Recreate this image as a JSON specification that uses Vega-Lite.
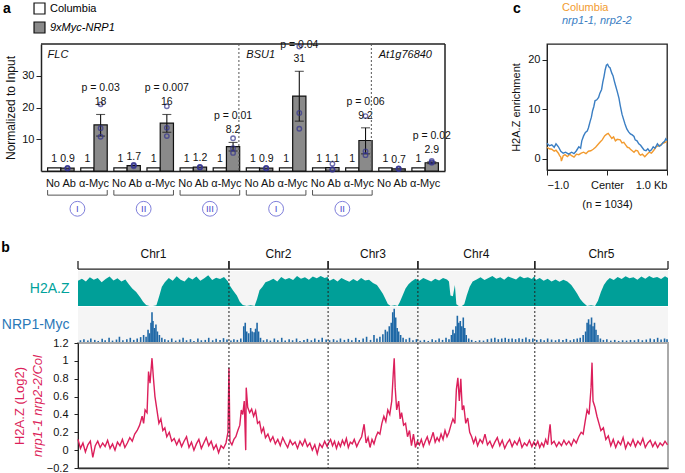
{
"$schema": "https://vega.github.io/schema/vega-lite/v6.json",
"background": "white",
"padding": {"left": 1, "top": 1, "right": 2, "bottom": 0},
"config": {
 "font": "Liberation Sans",
 "view": {"stroke": null},
 "axis": {"grid": false, "labelColor": "#111", "titleColor": "#111", "tickColor": "#222", "domainColor": "#222", "labelFontSize": 11, "titleFontSize": 12, "titleFontWeight": "normal"},
 "title": {"fontSize": 14, "fontWeight": "bold", "anchor": "start", "frame": "bounds", "color": "#000"}
},
"datasets": {
 "bars": [
  {"grp": "01 No Ab", "line": "Columbia", "value": 1, "label": "1"},
  {"grp": "01 No Ab", "line": "9xMyc-NRP1", "value": 0.9, "label": "0.9"},
  {"grp": "02 α-Myc", "line": "Columbia", "value": 1, "label": "1"},
  {"grp": "02 α-Myc", "line": "9xMyc-NRP1", "value": 14.5, "label": "18", "lo": 11, "hi": 17.8, "p": "p = 0.03"},
  {"grp": "03 No Ab", "line": "Columbia", "value": 1, "label": "1"},
  {"grp": "03 No Ab", "line": "9xMyc-NRP1", "value": 1.7, "label": "1.7"},
  {"grp": "04 α-Myc", "line": "Columbia", "value": 1, "label": "1"},
  {"grp": "04 α-Myc", "line": "9xMyc-NRP1", "value": 15.1, "label": "16", "lo": 12.2, "hi": 17.8, "p": "p = 0.007"},
  {"grp": "05 No Ab", "line": "Columbia", "value": 1, "label": "1"},
  {"grp": "05 No Ab", "line": "9xMyc-NRP1", "value": 1.2, "label": "1.2"},
  {"grp": "06 α-Myc", "line": "Columbia", "value": 1, "label": "1"},
  {"grp": "06 α-Myc", "line": "9xMyc-NRP1", "value": 7.7, "label": "8.2", "lo": 6.3, "hi": 9.0, "p": "p = 0.01"},
  {"grp": "07 No Ab", "line": "Columbia", "value": 1, "label": "1"},
  {"grp": "07 No Ab", "line": "9xMyc-NRP1", "value": 0.9, "label": "0.9"},
  {"grp": "08 α-Myc", "line": "Columbia", "value": 1, "label": "1"},
  {"grp": "08 α-Myc", "line": "9xMyc-NRP1", "value": 23.6, "label": "31", "lo": 15.7, "hi": 31.4, "p": "p = 0.04"},
  {"grp": "09 No Ab", "line": "Columbia", "value": 1, "label": "1"},
  {"grp": "09 No Ab", "line": "9xMyc-NRP1", "value": 1.1, "label": "1.1"},
  {"grp": "10 α-Myc", "line": "Columbia", "value": 1, "label": "1"},
  {"grp": "10 α-Myc", "line": "9xMyc-NRP1", "value": 9.6, "label": "9.2", "lo": 5.4, "hi": 13.6, "p": "p = 0.06"},
  {"grp": "11 No Ab", "line": "Columbia", "value": 1, "label": "1"},
  {"grp": "11 No Ab", "line": "9xMyc-NRP1", "value": 0.7, "label": "0.7"},
  {"grp": "12 α-Myc", "line": "Columbia", "value": 1, "label": "1"},
  {"grp": "12 α-Myc", "line": "9xMyc-NRP1", "value": 2.6, "label": "2.9", "lo": 2.3, "hi": 2.9, "p": "p = 0.02"}
 ],
 "reps": [
  {"grp": "01 No Ab", "line": "9xMyc-NRP1", "rep": 0.8}, {"grp": "01 No Ab", "line": "9xMyc-NRP1", "rep": 1.0}, {"grp": "01 No Ab", "line": "9xMyc-NRP1", "rep": 0.9},
  {"grp": "02 α-Myc", "line": "9xMyc-NRP1", "rep": 21}, {"grp": "02 α-Myc", "line": "9xMyc-NRP1", "rep": 13.5}, {"grp": "02 α-Myc", "line": "9xMyc-NRP1", "rep": 10.8},
  {"grp": "03 No Ab", "line": "9xMyc-NRP1", "rep": 1.5}, {"grp": "03 No Ab", "line": "9xMyc-NRP1", "rep": 1.8}, {"grp": "03 No Ab", "line": "9xMyc-NRP1", "rep": 1.9},
  {"grp": "04 α-Myc", "line": "9xMyc-NRP1", "rep": 20.4}, {"grp": "04 α-Myc", "line": "9xMyc-NRP1", "rep": 13.6}, {"grp": "04 α-Myc", "line": "9xMyc-NRP1", "rep": 11},
  {"grp": "05 No Ab", "line": "9xMyc-NRP1", "rep": 1.1}, {"grp": "05 No Ab", "line": "9xMyc-NRP1", "rep": 1.3}, {"grp": "05 No Ab", "line": "9xMyc-NRP1", "rep": 1.2},
  {"grp": "06 α-Myc", "line": "9xMyc-NRP1", "rep": 10.3}, {"grp": "06 α-Myc", "line": "9xMyc-NRP1", "rep": 7.2}, {"grp": "06 α-Myc", "line": "9xMyc-NRP1", "rep": 5.7},
  {"grp": "07 No Ab", "line": "9xMyc-NRP1", "rep": 0.8}, {"grp": "07 No Ab", "line": "9xMyc-NRP1", "rep": 1.0}, {"grp": "07 No Ab", "line": "9xMyc-NRP1", "rep": 0.9},
  {"grp": "08 α-Myc", "line": "9xMyc-NRP1", "rep": 39.2}, {"grp": "08 α-Myc", "line": "9xMyc-NRP1", "rep": 18.3}, {"grp": "08 α-Myc", "line": "9xMyc-NRP1", "rep": 13.3},
  {"grp": "09 No Ab", "line": "9xMyc-NRP1", "rep": 2.3}, {"grp": "09 No Ab", "line": "9xMyc-NRP1", "rep": 0.6}, {"grp": "09 No Ab", "line": "9xMyc-NRP1", "rep": 0.4},
  {"grp": "10 α-Myc", "line": "9xMyc-NRP1", "rep": 17.3}, {"grp": "10 α-Myc", "line": "9xMyc-NRP1", "rep": 6.2}, {"grp": "10 α-Myc", "line": "9xMyc-NRP1", "rep": 5.0},
  {"grp": "11 No Ab", "line": "9xMyc-NRP1", "rep": 0.6}, {"grp": "11 No Ab", "line": "9xMyc-NRP1", "rep": 0.8}, {"grp": "11 No Ab", "line": "9xMyc-NRP1", "rep": 0.7},
  {"grp": "12 α-Myc", "line": "9xMyc-NRP1", "rep": 3.2}, {"grp": "12 α-Myc", "line": "9xMyc-NRP1", "rep": 2.8}, {"grp": "12 α-Myc", "line": "9xMyc-NRP1", "rep": 2.6}
 ],
 "genes": [{"grp": "01 No Ab", "gene": "FLC"}, {"grp": "07 No Ab", "gene": "BSU1"}, {"grp": "11 No Ab", "gene": "At1g76840"}],
 "seps": [{"grp": "07 No Ab"}, {"grp": "11 No Ab"}],
 "frame": [{"first": "01 No Ab", "last": "12 α-Myc"}],
 "braces": [
  {"left": "01 No Ab", "right": "02 α-Myc", "region": "I"},
  {"left": "03 No Ab", "right": "04 α-Myc", "region": "II"},
  {"left": "05 No Ab", "right": "06 α-Myc", "region": "III"},
  {"left": "07 No Ab", "right": "08 α-Myc", "region": "I"},
  {"left": "09 No Ab", "right": "10 α-Myc", "region": "II"}
 ],
 "profile": [
  {"geno": "Columbia", "pos": -1.0, "v": 2.3}, {"geno": "Columbia", "pos": -0.96, "v": 2.0}, {"geno": "Columbia", "pos": -0.92, "v": 1.9}, {"geno": "Columbia", "pos": -0.88, "v": 1.5}, {"geno": "Columbia", "pos": -0.85, "v": 1.7}, {"geno": "Columbia", "pos": -0.81, "v": 1.1}, {"geno": "Columbia", "pos": -0.79, "v": 0.6}, {"geno": "Columbia", "pos": -0.77, "v": 0.3}, {"geno": "Columbia", "pos": -0.76, "v": -0.5}, {"geno": "Columbia", "pos": -0.73, "v": 0.6}, {"geno": "Columbia", "pos": -0.70, "v": 0.8}, {"geno": "Columbia", "pos": -0.66, "v": 0.4}, {"geno": "Columbia", "pos": -0.62, "v": 0.9}, {"geno": "Columbia", "pos": -0.59, "v": 0.6}, {"geno": "Columbia", "pos": -0.55, "v": 0.3}, {"geno": "Columbia", "pos": -0.51, "v": 0.9}, {"geno": "Columbia", "pos": -0.47, "v": 0.8}, {"geno": "Columbia", "pos": -0.43, "v": 1.1}, {"geno": "Columbia", "pos": -0.39, "v": 1.3}, {"geno": "Columbia", "pos": -0.35, "v": 1.0}, {"geno": "Columbia", "pos": -0.31, "v": 1.5}, {"geno": "Columbia", "pos": -0.27, "v": 1.6}, {"geno": "Columbia", "pos": -0.23, "v": 1.9}, {"geno": "Columbia", "pos": -0.19, "v": 2.3}, {"geno": "Columbia", "pos": -0.14, "v": 3.0}, {"geno": "Columbia", "pos": -0.11, "v": 3.4}, {"geno": "Columbia", "pos": -0.08, "v": 3.8}, {"geno": "Columbia", "pos": -0.04, "v": 4.6}, {"geno": "Columbia", "pos": -0.01, "v": 4.9}, {"geno": "Columbia", "pos": 0.02, "v": 5.1}, {"geno": "Columbia", "pos": 0.05, "v": 4.6}, {"geno": "Columbia", "pos": 0.08, "v": 4.1}, {"geno": "Columbia", "pos": 0.11, "v": 4.4}, {"geno": "Columbia", "pos": 0.14, "v": 3.6}, {"geno": "Columbia", "pos": 0.17, "v": 3.9}, {"geno": "Columbia", "pos": 0.22, "v": 3.8}, {"geno": "Columbia", "pos": 0.25, "v": 3.2}, {"geno": "Columbia", "pos": 0.28, "v": 3.3}, {"geno": "Columbia", "pos": 0.31, "v": 2.8}, {"geno": "Columbia", "pos": 0.34, "v": 2.3}, {"geno": "Columbia", "pos": 0.37, "v": 2.2}, {"geno": "Columbia", "pos": 0.39, "v": 1.9}, {"geno": "Columbia", "pos": 0.42, "v": 1.6}, {"geno": "Columbia", "pos": 0.45, "v": 1.3}, {"geno": "Columbia", "pos": 0.48, "v": 1.7}, {"geno": "Columbia", "pos": 0.51, "v": 1.6}, {"geno": "Columbia", "pos": 0.54, "v": 0.9}, {"geno": "Columbia", "pos": 0.56, "v": 0.7}, {"geno": "Columbia", "pos": 0.59, "v": 0.9}, {"geno": "Columbia", "pos": 0.63, "v": 0.4}, {"geno": "Columbia", "pos": 0.66, "v": 0.8}, {"geno": "Columbia", "pos": 0.70, "v": 1.3}, {"geno": "Columbia", "pos": 0.74, "v": 1.1}, {"geno": "Columbia", "pos": 0.78, "v": 1.7}, {"geno": "Columbia", "pos": 0.81, "v": 2.3}, {"geno": "Columbia", "pos": 0.85, "v": 2.6}, {"geno": "Columbia", "pos": 0.89, "v": 2.8}, {"geno": "Columbia", "pos": 0.93, "v": 3.1}, {"geno": "Columbia", "pos": 0.97, "v": 3.3}, {"geno": "Columbia", "pos": 1.0, "v": 3.5},
  {"geno": "nrp1-1, nrp2-2", "pos": -1.0, "v": 3.1}, {"geno": "nrp1-1, nrp2-2", "pos": -0.96, "v": 2.6}, {"geno": "nrp1-1, nrp2-2", "pos": -0.92, "v": 2.8}, {"geno": "nrp1-1, nrp2-2", "pos": -0.88, "v": 2.3}, {"geno": "nrp1-1, nrp2-2", "pos": -0.85, "v": 3.0}, {"geno": "nrp1-1, nrp2-2", "pos": -0.81, "v": 2.4}, {"geno": "nrp1-1, nrp2-2", "pos": -0.77, "v": 1.5}, {"geno": "nrp1-1, nrp2-2", "pos": -0.73, "v": 1.1}, {"geno": "nrp1-1, nrp2-2", "pos": -0.69, "v": 1.3}, {"geno": "nrp1-1, nrp2-2", "pos": -0.64, "v": 0.9}, {"geno": "nrp1-1, nrp2-2", "pos": -0.59, "v": 1.3}, {"geno": "nrp1-1, nrp2-2", "pos": -0.55, "v": 1.0}, {"geno": "nrp1-1, nrp2-2", "pos": -0.51, "v": 1.6}, {"geno": "nrp1-1, nrp2-2", "pos": -0.47, "v": 2.4}, {"geno": "nrp1-1, nrp2-2", "pos": -0.44, "v": 2.1}, {"geno": "nrp1-1, nrp2-2", "pos": -0.42, "v": 3.6}, {"geno": "nrp1-1, nrp2-2", "pos": -0.39, "v": 4.6}, {"geno": "nrp1-1, nrp2-2", "pos": -0.36, "v": 5.3}, {"geno": "nrp1-1, nrp2-2", "pos": -0.33, "v": 5.6}, {"geno": "nrp1-1, nrp2-2", "pos": -0.31, "v": 6.2}, {"geno": "nrp1-1, nrp2-2", "pos": -0.28, "v": 7.6}, {"geno": "nrp1-1, nrp2-2", "pos": -0.26, "v": 8.4}, {"geno": "nrp1-1, nrp2-2", "pos": -0.24, "v": 9.7}, {"geno": "nrp1-1, nrp2-2", "pos": -0.22, "v": 10.5}, {"geno": "nrp1-1, nrp2-2", "pos": -0.20, "v": 11.7}, {"geno": "nrp1-1, nrp2-2", "pos": -0.17, "v": 11.9}, {"geno": "nrp1-1, nrp2-2", "pos": -0.14, "v": 12.4}, {"geno": "nrp1-1, nrp2-2", "pos": -0.12, "v": 13.2}, {"geno": "nrp1-1, nrp2-2", "pos": -0.09, "v": 14.0}, {"geno": "nrp1-1, nrp2-2", "pos": -0.07, "v": 15.5}, {"geno": "nrp1-1, nrp2-2", "pos": -0.05, "v": 16.6}, {"geno": "nrp1-1, nrp2-2", "pos": -0.03, "v": 18.0}, {"geno": "nrp1-1, nrp2-2", "pos": -0.01, "v": 18.9}, {"geno": "nrp1-1, nrp2-2", "pos": 0.01, "v": 19.1}, {"geno": "nrp1-1, nrp2-2", "pos": 0.03, "v": 18.6}, {"geno": "nrp1-1, nrp2-2", "pos": 0.05, "v": 18.4}, {"geno": "nrp1-1, nrp2-2", "pos": 0.08, "v": 17.3}, {"geno": "nrp1-1, nrp2-2", "pos": 0.10, "v": 16.8}, {"geno": "nrp1-1, nrp2-2", "pos": 0.12, "v": 15.8}, {"geno": "nrp1-1, nrp2-2", "pos": 0.14, "v": 14.9}, {"geno": "nrp1-1, nrp2-2", "pos": 0.17, "v": 13.6}, {"geno": "nrp1-1, nrp2-2", "pos": 0.20, "v": 12.2}, {"geno": "nrp1-1, nrp2-2", "pos": 0.22, "v": 10.8}, {"geno": "nrp1-1, nrp2-2", "pos": 0.25, "v": 9.0}, {"geno": "nrp1-1, nrp2-2", "pos": 0.28, "v": 7.8}, {"geno": "nrp1-1, nrp2-2", "pos": 0.30, "v": 7.0}, {"geno": "nrp1-1, nrp2-2", "pos": 0.33, "v": 6.0}, {"geno": "nrp1-1, nrp2-2", "pos": 0.36, "v": 5.4}, {"geno": "nrp1-1, nrp2-2", "pos": 0.39, "v": 5.0}, {"geno": "nrp1-1, nrp2-2", "pos": 0.42, "v": 4.8}, {"geno": "nrp1-1, nrp2-2", "pos": 0.45, "v": 4.5}, {"geno": "nrp1-1, nrp2-2", "pos": 0.47, "v": 3.8}, {"geno": "nrp1-1, nrp2-2", "pos": 0.50, "v": 3.6}, {"geno": "nrp1-1, nrp2-2", "pos": 0.53, "v": 3.0}, {"geno": "nrp1-1, nrp2-2", "pos": 0.56, "v": 2.7}, {"geno": "nrp1-1, nrp2-2", "pos": 0.59, "v": 2.2}, {"geno": "nrp1-1, nrp2-2", "pos": 0.62, "v": 1.7}, {"geno": "nrp1-1, nrp2-2", "pos": 0.65, "v": 1.6}, {"geno": "nrp1-1, nrp2-2", "pos": 0.68, "v": 2.0}, {"geno": "nrp1-1, nrp2-2", "pos": 0.71, "v": 1.5}, {"geno": "nrp1-1, nrp2-2", "pos": 0.74, "v": 1.8}, {"geno": "nrp1-1, nrp2-2", "pos": 0.77, "v": 2.4}, {"geno": "nrp1-1, nrp2-2", "pos": 0.80, "v": 2.1}, {"geno": "nrp1-1, nrp2-2", "pos": 0.84, "v": 3.0}, {"geno": "nrp1-1, nrp2-2", "pos": 0.87, "v": 2.5}, {"geno": "nrp1-1, nrp2-2", "pos": 0.90, "v": 2.7}, {"geno": "nrp1-1, nrp2-2", "pos": 0.93, "v": 3.2}, {"geno": "nrp1-1, nrp2-2", "pos": 0.96, "v": 3.5}, {"geno": "nrp1-1, nrp2-2", "pos": 0.98, "v": 4.0}, {"geno": "nrp1-1, nrp2-2", "pos": 1.0, "v": 3.7}
 ],
 "chroms": [
  {"chrom": "Chr1", "start": 0, "end": 30.6, "center": 15.3},
  {"chrom": "Chr2", "start": 30.6, "end": 50.7, "center": 40.65},
  {"chrom": "Chr3", "start": 50.7, "end": 68.9, "center": 59.8},
  {"chrom": "Chr4", "start": 68.9, "end": 92.6, "center": 80.75},
  {"chrom": "Chr5", "start": 92.6, "end": 119.6, "center": 106.1}
 ],
 "cuts": [{"pos": 30.6}, {"pos": 50.7}, {"pos": 68.9}, {"pos": 92.6}],
 "h2az": [
  {"pos": 0, "v": 0.72}, {"pos": 0.8, "v": 0.78}, {"pos": 1.6, "v": 0.7}, {"pos": 2.4, "v": 0.82}, {"pos": 3.2, "v": 0.75}, {"pos": 4.0, "v": 0.8}, {"pos": 4.8, "v": 0.68}, {"pos": 5.6, "v": 0.77}, {"pos": 6.4, "v": 0.84}, {"pos": 7.2, "v": 0.73}, {"pos": 8.0, "v": 0.79}, {"pos": 8.8, "v": 0.7}, {"pos": 9.6, "v": 0.76}, {"pos": 10.3, "v": 0.62}, {"pos": 11.0, "v": 0.5}, {"pos": 11.8, "v": 0.4}, {"pos": 12.6, "v": 0.25}, {"pos": 13.2, "v": 0.12}, {"pos": 13.8, "v": 0.03}, {"pos": 14.5, "v": 0.0}, {"pos": 15.2, "v": 0.0}, {"pos": 15.9, "v": 0.02}, {"pos": 16.5, "v": 0.3}, {"pos": 17.0, "v": 0.55}, {"pos": 17.6, "v": 0.68}, {"pos": 18.4, "v": 0.8}, {"pos": 19.2, "v": 0.72}, {"pos": 20.0, "v": 0.85}, {"pos": 20.8, "v": 0.75}, {"pos": 21.6, "v": 0.7}, {"pos": 22.4, "v": 0.82}, {"pos": 23.2, "v": 0.76}, {"pos": 24.0, "v": 0.84}, {"pos": 24.8, "v": 0.72}, {"pos": 25.6, "v": 0.79}, {"pos": 26.4, "v": 0.88}, {"pos": 27.2, "v": 0.74}, {"pos": 28.0, "v": 0.81}, {"pos": 28.8, "v": 0.77}, {"pos": 29.6, "v": 0.83}, {"pos": 30.4, "v": 0.7},
  {"pos": 30.7, "v": 0.6}, {"pos": 31.4, "v": 0.45}, {"pos": 32.2, "v": 0.3}, {"pos": 32.8, "v": 0.12}, {"pos": 33.4, "v": 0.03}, {"pos": 34.2, "v": 0.0}, {"pos": 35.0, "v": 0.02}, {"pos": 35.8, "v": 0.0}, {"pos": 36.3, "v": 0.2}, {"pos": 36.8, "v": 0.45}, {"pos": 37.4, "v": 0.55}, {"pos": 38.0, "v": 0.68}, {"pos": 38.8, "v": 0.72}, {"pos": 39.6, "v": 0.78}, {"pos": 40.4, "v": 0.7}, {"pos": 41.2, "v": 0.83}, {"pos": 42.0, "v": 0.76}, {"pos": 42.8, "v": 0.8}, {"pos": 43.6, "v": 0.74}, {"pos": 44.4, "v": 0.86}, {"pos": 45.2, "v": 0.78}, {"pos": 46.0, "v": 0.82}, {"pos": 46.8, "v": 0.75}, {"pos": 47.6, "v": 0.84}, {"pos": 48.4, "v": 0.79}, {"pos": 49.2, "v": 0.86}, {"pos": 50.0, "v": 0.8}, {"pos": 50.6, "v": 0.83},
  {"pos": 51.0, "v": 0.72}, {"pos": 51.8, "v": 0.78}, {"pos": 52.6, "v": 0.7}, {"pos": 53.4, "v": 0.8}, {"pos": 54.2, "v": 0.74}, {"pos": 55.0, "v": 0.69}, {"pos": 55.8, "v": 0.77}, {"pos": 56.6, "v": 0.71}, {"pos": 57.4, "v": 0.8}, {"pos": 58.2, "v": 0.73}, {"pos": 59.0, "v": 0.75}, {"pos": 59.8, "v": 0.66}, {"pos": 60.6, "v": 0.6}, {"pos": 61.2, "v": 0.48}, {"pos": 61.8, "v": 0.35}, {"pos": 62.4, "v": 0.18}, {"pos": 62.8, "v": 0.06}, {"pos": 63.4, "v": 0.0}, {"pos": 64.2, "v": 0.02}, {"pos": 64.8, "v": 0.0}, {"pos": 65.2, "v": 0.1}, {"pos": 65.8, "v": 0.3}, {"pos": 66.4, "v": 0.5}, {"pos": 67.0, "v": 0.62}, {"pos": 67.6, "v": 0.7}, {"pos": 68.4, "v": 0.78},
  {"pos": 69.2, "v": 0.72}, {"pos": 70.0, "v": 0.8}, {"pos": 70.8, "v": 0.75}, {"pos": 71.6, "v": 0.7}, {"pos": 72.4, "v": 0.78}, {"pos": 73.2, "v": 0.73}, {"pos": 74.0, "v": 0.8}, {"pos": 74.8, "v": 0.76}, {"pos": 75.2, "v": 0.7}, {"pos": 75.5, "v": 0.3}, {"pos": 76.0, "v": 0.28}, {"pos": 76.4, "v": 0.6}, {"pos": 76.7, "v": 0.05}, {"pos": 77.2, "v": 0.0}, {"pos": 77.8, "v": 0.0}, {"pos": 78.3, "v": 0.05}, {"pos": 78.8, "v": 0.3}, {"pos": 79.4, "v": 0.55}, {"pos": 80.0, "v": 0.7}, {"pos": 80.8, "v": 0.76}, {"pos": 81.6, "v": 0.82}, {"pos": 82.4, "v": 0.74}, {"pos": 83.2, "v": 0.8}, {"pos": 84.0, "v": 0.86}, {"pos": 84.8, "v": 0.78}, {"pos": 85.6, "v": 0.82}, {"pos": 86.4, "v": 0.75}, {"pos": 87.2, "v": 0.84}, {"pos": 88.0, "v": 0.8}, {"pos": 88.8, "v": 0.76}, {"pos": 89.6, "v": 0.85}, {"pos": 90.4, "v": 0.79}, {"pos": 91.2, "v": 0.82}, {"pos": 92.0, "v": 0.77}, {"pos": 92.5, "v": 0.85},
  {"pos": 92.8, "v": 0.74}, {"pos": 93.6, "v": 0.8}, {"pos": 94.4, "v": 0.72}, {"pos": 95.2, "v": 0.78}, {"pos": 96.0, "v": 0.7}, {"pos": 96.8, "v": 0.76}, {"pos": 97.6, "v": 0.69}, {"pos": 98.4, "v": 0.75}, {"pos": 99.2, "v": 0.7}, {"pos": 100.0, "v": 0.6}, {"pos": 100.6, "v": 0.48}, {"pos": 101.2, "v": 0.35}, {"pos": 101.8, "v": 0.2}, {"pos": 102.4, "v": 0.1}, {"pos": 103.2, "v": 0.0}, {"pos": 104.0, "v": 0.02}, {"pos": 104.8, "v": 0.0}, {"pos": 105.4, "v": 0.15}, {"pos": 106.0, "v": 0.4}, {"pos": 106.6, "v": 0.6}, {"pos": 107.2, "v": 0.72}, {"pos": 107.8, "v": 0.8}, {"pos": 108.6, "v": 0.74}, {"pos": 109.4, "v": 0.83}, {"pos": 110.2, "v": 0.77}, {"pos": 111.0, "v": 0.85}, {"pos": 111.8, "v": 0.79}, {"pos": 112.6, "v": 0.82}, {"pos": 113.4, "v": 0.75}, {"pos": 114.2, "v": 0.84}, {"pos": 115.0, "v": 0.78}, {"pos": 115.8, "v": 0.86}, {"pos": 116.6, "v": 0.8}, {"pos": 117.4, "v": 0.83}, {"pos": 118.2, "v": 0.77}, {"pos": 119.0, "v": 0.85}, {"pos": 119.6, "v": 0.8}
 ],
 "nrp1": [
  {"pos": 0.5, "v": 0.05}, {"pos": 1.2, "v": 0.08}, {"pos": 2.0, "v": 0.04}, {"pos": 2.6, "v": 0.1}, {"pos": 3.4, "v": 0.06}, {"pos": 4.1, "v": 0.03}, {"pos": 4.9, "v": 0.09}, {"pos": 5.5, "v": 0.05}, {"pos": 6.3, "v": 0.12}, {"pos": 7.0, "v": 0.04}, {"pos": 7.8, "v": 0.07}, {"pos": 8.4, "v": 0.15}, {"pos": 9.1, "v": 0.05}, {"pos": 9.9, "v": 0.08}, {"pos": 10.6, "v": 0.12}, {"pos": 11.3, "v": 0.06}, {"pos": 12.0, "v": 0.1}, {"pos": 12.7, "v": 0.14}, {"pos": 13.3, "v": 0.2}, {"pos": 13.8, "v": 0.15}, {"pos": 14.2, "v": 0.35}, {"pos": 14.5, "v": 0.25}, {"pos": 14.8, "v": 0.55}, {"pos": 15.0, "v": 0.85}, {"pos": 15.2, "v": 0.6}, {"pos": 15.5, "v": 0.4}, {"pos": 15.8, "v": 0.5}, {"pos": 16.1, "v": 0.3}, {"pos": 16.5, "v": 0.2}, {"pos": 17.0, "v": 0.12}, {"pos": 17.6, "v": 0.08}, {"pos": 18.3, "v": 0.05}, {"pos": 19.0, "v": 0.1}, {"pos": 19.8, "v": 0.04}, {"pos": 20.6, "v": 0.07}, {"pos": 21.3, "v": 0.12}, {"pos": 22.0, "v": 0.05}, {"pos": 22.8, "v": 0.08}, {"pos": 23.5, "v": 0.03}, {"pos": 24.3, "v": 0.1}, {"pos": 25.0, "v": 0.05}, {"pos": 25.8, "v": 0.06}, {"pos": 26.5, "v": 0.12}, {"pos": 27.3, "v": 0.05}, {"pos": 28.0, "v": 0.09}, {"pos": 28.8, "v": 0.06}, {"pos": 29.5, "v": 0.11}, {"pos": 30.2, "v": 0.07},
  {"pos": 31.0, "v": 0.04}, {"pos": 31.6, "v": 0.08}, {"pos": 32.3, "v": 0.06}, {"pos": 33.0, "v": 0.1}, {"pos": 33.6, "v": 0.45}, {"pos": 33.9, "v": 0.55}, {"pos": 34.2, "v": 0.3}, {"pos": 34.6, "v": 0.25}, {"pos": 35.0, "v": 0.4}, {"pos": 35.3, "v": 0.3}, {"pos": 35.7, "v": 0.28}, {"pos": 36.0, "v": 0.38}, {"pos": 36.3, "v": 0.55}, {"pos": 36.6, "v": 0.3}, {"pos": 37.0, "v": 0.12}, {"pos": 37.6, "v": 0.05}, {"pos": 38.3, "v": 0.08}, {"pos": 39.0, "v": 0.04}, {"pos": 39.8, "v": 0.1}, {"pos": 40.5, "v": 0.05}, {"pos": 41.3, "v": 0.12}, {"pos": 42.0, "v": 0.04}, {"pos": 42.8, "v": 0.08}, {"pos": 43.5, "v": 0.05}, {"pos": 44.3, "v": 0.1}, {"pos": 45.0, "v": 0.03}, {"pos": 45.8, "v": 0.06}, {"pos": 46.5, "v": 0.09}, {"pos": 47.3, "v": 0.05}, {"pos": 48.0, "v": 0.1}, {"pos": 48.8, "v": 0.06}, {"pos": 49.5, "v": 0.12}, {"pos": 50.3, "v": 0.07},
  {"pos": 51.0, "v": 0.05}, {"pos": 51.8, "v": 0.08}, {"pos": 52.5, "v": 0.04}, {"pos": 53.2, "v": 0.1}, {"pos": 54.0, "v": 0.06}, {"pos": 54.8, "v": 0.09}, {"pos": 55.5, "v": 0.05}, {"pos": 56.3, "v": 0.12}, {"pos": 57.0, "v": 0.06}, {"pos": 57.8, "v": 0.1}, {"pos": 58.5, "v": 0.15}, {"pos": 59.3, "v": 0.06}, {"pos": 60.0, "v": 0.2}, {"pos": 60.6, "v": 0.1}, {"pos": 61.2, "v": 0.15}, {"pos": 61.8, "v": 0.22}, {"pos": 62.3, "v": 0.35}, {"pos": 62.7, "v": 0.3}, {"pos": 63.1, "v": 0.45}, {"pos": 63.5, "v": 0.55}, {"pos": 63.8, "v": 0.85}, {"pos": 64.1, "v": 0.95}, {"pos": 64.4, "v": 0.7}, {"pos": 64.7, "v": 0.4}, {"pos": 65.0, "v": 0.3}, {"pos": 65.4, "v": 0.2}, {"pos": 65.9, "v": 0.12}, {"pos": 66.5, "v": 0.08}, {"pos": 67.2, "v": 0.12}, {"pos": 67.9, "v": 0.05}, {"pos": 68.6, "v": 0.08},
  {"pos": 69.4, "v": 0.04}, {"pos": 70.2, "v": 0.06}, {"pos": 71.0, "v": 0.03}, {"pos": 71.8, "v": 0.08}, {"pos": 72.5, "v": 0.05}, {"pos": 73.2, "v": 0.1}, {"pos": 73.9, "v": 0.06}, {"pos": 74.6, "v": 0.12}, {"pos": 75.2, "v": 0.08}, {"pos": 75.7, "v": 0.2}, {"pos": 76.0, "v": 0.35}, {"pos": 76.3, "v": 0.25}, {"pos": 76.6, "v": 0.45}, {"pos": 76.9, "v": 0.75}, {"pos": 77.2, "v": 0.55}, {"pos": 77.5, "v": 0.6}, {"pos": 77.8, "v": 0.45}, {"pos": 78.1, "v": 0.7}, {"pos": 78.4, "v": 0.4}, {"pos": 78.7, "v": 0.2}, {"pos": 79.2, "v": 0.1}, {"pos": 79.8, "v": 0.06}, {"pos": 80.6, "v": 0.03}, {"pos": 81.4, "v": 0.05}, {"pos": 82.2, "v": 0.04}, {"pos": 83.0, "v": 0.08}, {"pos": 83.8, "v": 0.1}, {"pos": 84.5, "v": 0.12}, {"pos": 85.2, "v": 0.08}, {"pos": 85.9, "v": 0.1}, {"pos": 86.6, "v": 0.12}, {"pos": 87.3, "v": 0.09}, {"pos": 88.0, "v": 0.1}, {"pos": 88.7, "v": 0.08}, {"pos": 89.4, "v": 0.11}, {"pos": 90.1, "v": 0.09}, {"pos": 90.8, "v": 0.13}, {"pos": 91.5, "v": 0.08}, {"pos": 92.2, "v": 0.1},
  {"pos": 93.0, "v": 0.06}, {"pos": 93.8, "v": 0.08}, {"pos": 94.5, "v": 0.05}, {"pos": 95.2, "v": 0.1}, {"pos": 96.0, "v": 0.07}, {"pos": 96.8, "v": 0.05}, {"pos": 97.5, "v": 0.08}, {"pos": 98.3, "v": 0.06}, {"pos": 99.0, "v": 0.09}, {"pos": 99.8, "v": 0.05}, {"pos": 100.5, "v": 0.08}, {"pos": 101.2, "v": 0.1}, {"pos": 101.8, "v": 0.12}, {"pos": 102.4, "v": 0.2}, {"pos": 102.9, "v": 0.3}, {"pos": 103.2, "v": 0.55}, {"pos": 103.5, "v": 0.65}, {"pos": 103.8, "v": 0.5}, {"pos": 104.1, "v": 0.7}, {"pos": 104.4, "v": 0.45}, {"pos": 104.7, "v": 0.55}, {"pos": 105.0, "v": 0.35}, {"pos": 105.4, "v": 0.2}, {"pos": 105.9, "v": 0.1}, {"pos": 106.5, "v": 0.06}, {"pos": 107.2, "v": 0.08}, {"pos": 108.0, "v": 0.04}, {"pos": 108.8, "v": 0.06}, {"pos": 109.6, "v": 0.03}, {"pos": 110.4, "v": 0.05}, {"pos": 111.2, "v": 0.04}, {"pos": 112.0, "v": 0.06}, {"pos": 112.8, "v": 0.05}, {"pos": 113.6, "v": 0.08}, {"pos": 114.4, "v": 0.05}, {"pos": 115.2, "v": 0.07}, {"pos": 116.0, "v": 0.1}, {"pos": 116.8, "v": 0.08}, {"pos": 117.5, "v": 0.12}, {"pos": 118.2, "v": 0.07}, {"pos": 118.9, "v": 0.1}, {"pos": 119.4, "v": 0.08}
 ],
 "ratio": [
  {"pos": 0.0, "v": 0.12}, {"pos": 0.5, "v": 0.02}, {"pos": 1.0, "v": 0.08}, {"pos": 1.5, "v": -0.02}, {"pos": 2.0, "v": 0.06}, {"pos": 2.5, "v": 0.1}, {"pos": 3.0, "v": -0.08}, {"pos": 3.5, "v": 0.05}, {"pos": 4.0, "v": 0.1}, {"pos": 4.5, "v": 0.03}, {"pos": 5.0, "v": 0.08}, {"pos": 5.5, "v": 0.04}, {"pos": 6.0, "v": 0.11}, {"pos": 6.5, "v": 0.02}, {"pos": 7.0, "v": 0.07}, {"pos": 7.5, "v": 0.0}, {"pos": 8.0, "v": 0.09}, {"pos": 8.5, "v": 0.05}, {"pos": 9.0, "v": 0.12}, {"pos": 9.5, "v": 0.03}, {"pos": 10.0, "v": 0.08}, {"pos": 10.5, "v": 0.14}, {"pos": 11.0, "v": 0.1}, {"pos": 11.5, "v": 0.18}, {"pos": 12.0, "v": 0.22}, {"pos": 12.5, "v": 0.28}, {"pos": 13.0, "v": 0.38}, {"pos": 13.3, "v": 0.3}, {"pos": 13.6, "v": 0.45}, {"pos": 14.0, "v": 0.42}, {"pos": 14.3, "v": 0.88}, {"pos": 14.6, "v": 0.75}, {"pos": 15.0, "v": 1.03}, {"pos": 15.3, "v": 0.8}, {"pos": 15.6, "v": 0.6}, {"pos": 16.0, "v": 0.45}, {"pos": 16.4, "v": 0.3}, {"pos": 16.8, "v": 0.35}, {"pos": 17.2, "v": 0.22}, {"pos": 17.6, "v": 0.25}, {"pos": 18.0, "v": 0.15}, {"pos": 18.5, "v": 0.2}, {"pos": 19.0, "v": 0.1}, {"pos": 19.5, "v": 0.13}, {"pos": 20.0, "v": 0.06}, {"pos": 20.5, "v": 0.12}, {"pos": 21.0, "v": 0.04}, {"pos": 21.5, "v": 0.1}, {"pos": 22.0, "v": 0.15}, {"pos": 22.5, "v": 0.03}, {"pos": 23.0, "v": 0.09}, {"pos": 23.5, "v": 0.0}, {"pos": 24.0, "v": 0.07}, {"pos": 24.5, "v": 0.12}, {"pos": 25.0, "v": 0.02}, {"pos": 25.5, "v": 0.08}, {"pos": 26.0, "v": 0.14}, {"pos": 26.5, "v": 0.05}, {"pos": 27.0, "v": 0.1}, {"pos": 27.5, "v": 0.01}, {"pos": 28.0, "v": 0.06}, {"pos": 28.5, "v": -0.03}, {"pos": 29.0, "v": 0.05}, {"pos": 29.5, "v": 0.02}, {"pos": 30.0, "v": 0.08}, {"pos": 30.4, "v": 0.2}, {"pos": 30.6, "v": 0.92},
  {"pos": 30.8, "v": 0.1}, {"pos": 31.2, "v": 0.06}, {"pos": 31.6, "v": 0.12}, {"pos": 32.0, "v": 0.15}, {"pos": 32.4, "v": 0.22}, {"pos": 32.8, "v": 0.28}, {"pos": 33.1, "v": 0.45}, {"pos": 33.4, "v": 0.4}, {"pos": 33.7, "v": 0.55}, {"pos": 34.0, "v": 0.0}, {"pos": 34.1, "v": 0.7}, {"pos": 34.4, "v": 0.48}, {"pos": 34.8, "v": 0.42}, {"pos": 35.2, "v": 0.46}, {"pos": 35.6, "v": 0.38}, {"pos": 36.0, "v": 0.44}, {"pos": 36.4, "v": 0.3}, {"pos": 36.8, "v": 0.32}, {"pos": 37.2, "v": 0.2}, {"pos": 37.6, "v": 0.25}, {"pos": 38.0, "v": 0.14}, {"pos": 38.5, "v": 0.18}, {"pos": 39.0, "v": 0.1}, {"pos": 39.5, "v": 0.15}, {"pos": 40.0, "v": 0.07}, {"pos": 40.5, "v": 0.12}, {"pos": 41.0, "v": 0.05}, {"pos": 41.5, "v": 0.14}, {"pos": 42.0, "v": 0.08}, {"pos": 42.5, "v": 0.03}, {"pos": 43.0, "v": 0.11}, {"pos": 43.5, "v": 0.06}, {"pos": 44.0, "v": 0.09}, {"pos": 44.5, "v": 0.02}, {"pos": 45.0, "v": 0.1}, {"pos": 45.5, "v": 0.05}, {"pos": 46.0, "v": 0.12}, {"pos": 46.5, "v": 0.04}, {"pos": 47.0, "v": 0.08}, {"pos": 47.5, "v": 0.0}, {"pos": 48.0, "v": 0.06}, {"pos": 48.5, "v": -0.04}, {"pos": 49.0, "v": 0.07}, {"pos": 49.5, "v": 0.03}, {"pos": 50.0, "v": 0.1}, {"pos": 50.5, "v": 0.04},
  {"pos": 50.8, "v": 0.08}, {"pos": 51.2, "v": 0.12}, {"pos": 51.6, "v": 0.05}, {"pos": 52.0, "v": 0.1}, {"pos": 52.4, "v": 0.02}, {"pos": 52.8, "v": 0.09}, {"pos": 53.2, "v": 0.04}, {"pos": 53.6, "v": 0.11}, {"pos": 54.0, "v": 0.06}, {"pos": 54.4, "v": 0.13}, {"pos": 54.8, "v": 0.03}, {"pos": 55.2, "v": 0.09}, {"pos": 55.6, "v": 0.07}, {"pos": 56.0, "v": 0.12}, {"pos": 56.5, "v": 0.04}, {"pos": 57.0, "v": 0.1}, {"pos": 57.5, "v": 0.15}, {"pos": 58.0, "v": 0.29}, {"pos": 58.4, "v": 0.08}, {"pos": 58.8, "v": 0.14}, {"pos": 59.2, "v": 0.03}, {"pos": 59.6, "v": 0.12}, {"pos": 60.0, "v": 0.07}, {"pos": 60.4, "v": 0.15}, {"pos": 60.8, "v": 0.2}, {"pos": 61.2, "v": 0.18}, {"pos": 61.6, "v": 0.3}, {"pos": 62.0, "v": 0.38}, {"pos": 62.4, "v": 0.32}, {"pos": 62.8, "v": 0.45}, {"pos": 63.2, "v": 0.4}, {"pos": 63.6, "v": 0.55}, {"pos": 63.9, "v": 0.85}, {"pos": 64.1, "v": 1.03}, {"pos": 64.3, "v": 0.7}, {"pos": 64.6, "v": 0.45}, {"pos": 65.0, "v": 0.55}, {"pos": 65.3, "v": 0.35}, {"pos": 65.6, "v": 0.42}, {"pos": 66.0, "v": 0.28}, {"pos": 66.4, "v": 0.3}, {"pos": 66.8, "v": 0.15}, {"pos": 67.2, "v": 0.22}, {"pos": 67.6, "v": 0.05}, {"pos": 68.0, "v": 0.18}, {"pos": 68.4, "v": 0.03}, {"pos": 68.8, "v": 0.1},
  {"pos": 69.2, "v": 0.06}, {"pos": 69.6, "v": 0.12}, {"pos": 70.0, "v": 0.04}, {"pos": 70.4, "v": 0.1}, {"pos": 70.8, "v": 0.15}, {"pos": 71.2, "v": 0.07}, {"pos": 71.6, "v": 0.13}, {"pos": 72.0, "v": 0.2}, {"pos": 72.4, "v": 0.09}, {"pos": 72.8, "v": 0.14}, {"pos": 73.2, "v": 0.1}, {"pos": 73.6, "v": 0.18}, {"pos": 74.0, "v": 0.12}, {"pos": 74.4, "v": 0.22}, {"pos": 74.8, "v": 0.15}, {"pos": 75.2, "v": 0.2}, {"pos": 75.6, "v": 0.28}, {"pos": 76.0, "v": 0.35}, {"pos": 76.4, "v": 0.3}, {"pos": 76.7, "v": 0.68}, {"pos": 77.0, "v": 0.81}, {"pos": 77.3, "v": 0.55}, {"pos": 77.6, "v": 0.8}, {"pos": 77.9, "v": 0.45}, {"pos": 78.2, "v": 0.5}, {"pos": 78.6, "v": 0.3}, {"pos": 79.0, "v": 0.36}, {"pos": 79.4, "v": 0.2}, {"pos": 79.8, "v": 0.15}, {"pos": 80.2, "v": 0.08}, {"pos": 80.6, "v": 0.14}, {"pos": 81.0, "v": 0.05}, {"pos": 81.5, "v": 0.12}, {"pos": 82.0, "v": 0.08}, {"pos": 82.5, "v": 0.18}, {"pos": 83.0, "v": 0.06}, {"pos": 83.5, "v": 0.1}, {"pos": 84.0, "v": 0.03}, {"pos": 84.5, "v": 0.09}, {"pos": 85.0, "v": 0.14}, {"pos": 85.5, "v": 0.05}, {"pos": 86.0, "v": 0.11}, {"pos": 86.5, "v": 0.02}, {"pos": 87.0, "v": 0.08}, {"pos": 87.5, "v": 0.12}, {"pos": 88.0, "v": 0.04}, {"pos": 88.5, "v": 0.1}, {"pos": 89.0, "v": 0.06}, {"pos": 89.5, "v": 0.13}, {"pos": 90.0, "v": 0.03}, {"pos": 90.5, "v": 0.08}, {"pos": 91.0, "v": 0.05}, {"pos": 91.5, "v": 0.11}, {"pos": 92.0, "v": 0.04}, {"pos": 92.4, "v": 0.09},
  {"pos": 92.8, "v": 0.05}, {"pos": 93.2, "v": 0.1}, {"pos": 93.6, "v": 0.03}, {"pos": 94.0, "v": 0.08}, {"pos": 94.4, "v": 0.04}, {"pos": 94.8, "v": 0.12}, {"pos": 95.2, "v": 0.06}, {"pos": 95.7, "v": 0.29}, {"pos": 96.0, "v": 0.07}, {"pos": 96.5, "v": 0.1}, {"pos": 97.0, "v": 0.04}, {"pos": 97.5, "v": 0.09}, {"pos": 98.0, "v": 0.05}, {"pos": 98.5, "v": 0.11}, {"pos": 99.0, "v": 0.06}, {"pos": 99.5, "v": 0.1}, {"pos": 100.0, "v": 0.05}, {"pos": 100.5, "v": 0.12}, {"pos": 101.0, "v": 0.08}, {"pos": 101.5, "v": 0.15}, {"pos": 102.0, "v": 0.2}, {"pos": 102.4, "v": 0.18}, {"pos": 102.8, "v": 0.32}, {"pos": 103.2, "v": 0.45}, {"pos": 103.6, "v": 0.4}, {"pos": 104.0, "v": 0.7}, {"pos": 104.2, "v": 0.98}, {"pos": 104.4, "v": 0.55}, {"pos": 104.8, "v": 0.48}, {"pos": 105.2, "v": 0.38}, {"pos": 105.6, "v": 0.3}, {"pos": 106.0, "v": 0.22}, {"pos": 106.5, "v": 0.25}, {"pos": 107.0, "v": 0.12}, {"pos": 107.5, "v": 0.16}, {"pos": 108.0, "v": 0.05}, {"pos": 108.5, "v": 0.12}, {"pos": 109.0, "v": 0.03}, {"pos": 109.5, "v": 0.1}, {"pos": 110.0, "v": 0.06}, {"pos": 110.5, "v": 0.14}, {"pos": 111.0, "v": 0.02}, {"pos": 111.5, "v": 0.09}, {"pos": 112.0, "v": 0.05}, {"pos": 112.5, "v": 0.12}, {"pos": 113.0, "v": 0.04}, {"pos": 113.5, "v": 0.1}, {"pos": 114.0, "v": 0.06}, {"pos": 114.5, "v": 0.13}, {"pos": 115.0, "v": 0.03}, {"pos": 115.5, "v": 0.08}, {"pos": 116.0, "v": 0.11}, {"pos": 116.5, "v": 0.04}, {"pos": 117.0, "v": 0.09}, {"pos": 117.5, "v": 0.03}, {"pos": 118.0, "v": 0.08}, {"pos": 118.5, "v": 0.05}, {"pos": 119.0, "v": 0.1}, {"pos": 119.5, "v": 0.06}
 ]
},
"columns": 1,
"spacing": 22,
"concat": [
 {
  "spacing": 28,
  "resolve": {"legend": {"fill": "independent", "color": "independent"}, "scale": {"fill": "independent", "color": "independent"}},
  "hconcat": [
   {
    "width": 367, "height": 127,
    "view": {"stroke": null},
    "layer": [
     {"data": {"name": "bars"}, "mark": {"type": "bar", "stroke": "#111", "strokeWidth": 1.2},
      "encoding": {
       "x": {"field": "grp", "type": "nominal", "scale": {"paddingInner": 0.2, "paddingOuter": 0.2, "range": [-37, 367]}, "axis": {"title": null, "labelExpr": "slice(datum.label, 3)", "labelAngle": 0, "ticks": false, "domain": true, "domainWidth": 1.5, "domainColor": "#222", "labelPadding": 6, "labelFontSize": 11}},
       "xOffset": {"field": "line", "type": "nominal", "scale": {"domain": ["Columbia", "9xMyc-NRP1"], "paddingInner": 0, "paddingOuter": 0}},
       "y": {"field": "value", "type": "quantitative", "scale": {"domain": [0, 40], "nice": false}, "axis": {"values": [10, 20, 30], "title": "Normalized to Input", "tickSize": 5, "titlePadding": 4, "offset": 37, "domainWidth": 1.5}},
       "fill": {"field": "line", "type": "nominal", "scale": {"domain": ["Columbia", "9xMyc-NRP1"], "range": ["#ffffff", "#8a8a8a"]},
        "legend": {"orient": "none", "legendX": -75, "legendY": -42, "direction": "vertical", "title": "a", "titleOrient": "left", "titleAnchor": "start", "titleFontSize": 14, "titleFontWeight": "bold", "titleColor": "#000", "titlePadding": 22, "symbolType": "square", "symbolSize": 120, "symbolStrokeColor": "#111", "symbolStrokeWidth": 1.2, "labelFontSize": 11, "rowPadding": 2,
         "encode": {"labels": {"update": {"fontStyle": {"signal": "datum.label == '9xMyc-NRP1' ? 'italic' : 'normal'"}}}}}}
      }},
     {"data": {"name": "frame"}, "mark": {"type": "rule", "color": "#222", "strokeWidth": 1.5},
      "encoding": {"x": {"field": "first", "type": "nominal", "bandPosition": -0.25}, "x2": {"field": "last", "bandPosition": 1.25}, "y": {"datum": 40}}},
     {"data": {"name": "frame"}, "mark": {"type": "rule", "color": "#222", "strokeWidth": 1.5},
      "encoding": {"x": {"field": "last", "type": "nominal", "bandPosition": 1.25}, "y": {"datum": 0}, "y2": {"datum": 40}}},
     {"data": {"name": "bars"}, "transform": [{"filter": "isValid(datum.hi)"}], "mark": {"type": "rule", "color": "#111", "strokeWidth": 1.1},
      "encoding": {"x": {"field": "grp", "type": "nominal"}, "xOffset": {"field": "line", "type": "nominal"}, "y": {"field": "lo", "type": "quantitative"}, "y2": {"field": "hi"}}},
     {"data": {"name": "bars"}, "transform": [{"filter": "isValid(datum.hi)"}], "mark": {"type": "tick", "color": "#111", "thickness": 1.1, "size": 9},
      "encoding": {"x": {"field": "grp", "type": "nominal"}, "xOffset": {"field": "line", "type": "nominal"}, "y": {"field": "hi", "type": "quantitative"}}},
     {"data": {"name": "bars"}, "transform": [{"filter": "isValid(datum.hi)"}], "mark": {"type": "tick", "color": "#111", "thickness": 1.1, "size": 9},
      "encoding": {"x": {"field": "grp", "type": "nominal"}, "xOffset": {"field": "line", "type": "nominal"}, "y": {"field": "lo", "type": "quantitative"}}},
     {"data": {"name": "reps"}, "mark": {"type": "point", "filled": false, "color": "#34348f", "size": 20, "strokeWidth": 1.4},
      "encoding": {"x": {"field": "grp", "type": "nominal"}, "xOffset": {"field": "line", "type": "nominal"}, "y": {"field": "rep", "type": "quantitative"}}},
     {"data": {"name": "bars"}, "transform": [{"filter": "!isValid(datum.hi)"}], "mark": {"type": "text", "fontSize": 10.5, "color": "#111", "dy": -9},
      "encoding": {"x": {"field": "grp", "type": "nominal"}, "xOffset": {"field": "line", "type": "nominal"}, "y": {"field": "value", "type": "quantitative"}, "text": {"field": "label"}}},
     {"data": {"name": "bars"}, "transform": [{"filter": "isValid(datum.hi)"}], "mark": {"type": "text", "fontSize": 10.5, "color": "#111", "dy": -12},
      "encoding": {"x": {"field": "grp", "type": "nominal"}, "xOffset": {"field": "line", "type": "nominal"}, "y": {"field": "hi", "type": "quantitative"}, "text": {"field": "label"}}},
     {"data": {"name": "bars"}, "transform": [{"filter": "isValid(datum.hi)"}], "mark": {"type": "text", "fontSize": 10.5, "color": "#111", "dy": -26},
      "encoding": {"x": {"field": "grp", "type": "nominal"}, "xOffset": {"field": "line", "type": "nominal"}, "y": {"field": "hi", "type": "quantitative"}, "text": {"field": "p"}}},
     {"data": {"name": "genes"}, "mark": {"type": "text", "fontSize": 11, "fontStyle": "italic", "align": "left", "color": "#111"},
      "encoding": {"x": {"field": "grp", "type": "nominal", "bandPosition": 0}, "y": {"datum": 36.5}, "text": {"field": "gene"}}},
     {"data": {"name": "seps"}, "mark": {"type": "rule", "color": "#555", "strokeDash": [2, 2], "strokeWidth": 1},
      "encoding": {"x": {"field": "grp", "type": "nominal", "bandPosition": -0.28}}},
     {"data": {"name": "braces"}, "mark": {"type": "rule", "color": "#555", "strokeWidth": 1},
      "encoding": {"x": {"field": "left", "type": "nominal", "bandPosition": 0}, "x2": {"field": "right", "bandPosition": 1}, "y": {"datum": -7.6}}},
     {"data": {"name": "braces"}, "mark": {"type": "rule", "color": "#555", "strokeWidth": 1},
      "encoding": {"x": {"field": "left", "type": "nominal", "bandPosition": 0}, "y": {"datum": -7.6}, "y2": {"datum": -6.0}}},
     {"data": {"name": "braces"}, "mark": {"type": "rule", "color": "#555", "strokeWidth": 1},
      "encoding": {"x": {"field": "right", "type": "nominal", "bandPosition": 1}, "y": {"datum": -7.6}, "y2": {"datum": -6.0}}},
     {"data": {"name": "braces"}, "mark": {"type": "point", "filled": false, "color": "#4a4acc", "size": 220, "strokeWidth": 1},
      "encoding": {"x": {"field": "right", "type": "nominal", "bandPosition": -0.125}, "y": {"datum": -11.9}}},
     {"data": {"name": "braces"}, "mark": {"type": "text", "color": "#4a4acc", "fontSize": 9.5},
      "encoding": {"x": {"field": "right", "type": "nominal", "bandPosition": -0.125}, "y": {"datum": -11.9}, "text": {"field": "region"}}}
    ]
   },
   {
    "width": 120, "height": 126,
    "view": {"stroke": "#222", "strokeWidth": 1.3},
    "data": {"name": "profile"},
    "mark": {"type": "line", "strokeWidth": 1.4},
    "encoding": {
     "x": {"field": "pos", "type": "quantitative", "scale": {"domain": [-1, 1], "nice": false}, "axis": {"values": [-1, 0, 1], "labelExpr": "datum.value == 0 ? 'Center' : (datum.value < 0 ? '−1.0' : '1.0 Kb')", "title": "(n = 1034)", "titleFontSize": 11, "titlePadding": 8, "tickSize": 5, "labelPadding": 4}},
     "y": {"field": "v", "type": "quantitative", "scale": {"domain": [-2.3, 23.2], "nice": false, "zero": false}, "axis": {"values": [0, 10, 20], "title": "H2A.Z enrichment", "titleFontSize": 11, "tickSize": 5, "titlePadding": 6}},
     "color": {"field": "geno", "type": "nominal", "scale": {"domain": ["Columbia", "nrp1-1, nrp2-2"], "range": ["#f29b30", "#3a7ec3"]},
      "legend": {"orient": "none", "legendX": -34, "legendY": -42, "direction": "vertical", "title": "c", "titleOrient": "left", "titleAnchor": "start", "titleFontSize": 14, "titleFontWeight": "bold", "titleColor": "#000", "titlePadding": 30, "symbolOpacity": 0, "symbolSize": 0, "labelOffset": 0, "labelFontSize": 11, "rowPadding": 1,
       "encode": {"labels": {"update": {"fill": {"signal": "datum.label == 'Columbia' ? '#f29b30' : '#3a7ec3'"}, "fontStyle": {"signal": "datum.label == 'Columbia' ? 'normal' : 'italic'"}}}}}}
    }
   }
  ]
 },
 {
  "title": {"text": "b", "offset": -9},
  "spacing": 1,
  "bounds": "flush",
  "vconcat": [
   {
    "width": 590, "height": 24,
    "layer": [
     {"data": {"name": "chroms"}, "mark": {"type": "rule", "color": "#222", "strokeWidth": 1.3},
      "encoding": {"x": {"field": "start", "type": "quantitative", "scale": {"domain": [0, 119.6], "nice": false, "zero": false}, "axis": null}, "x2": {"field": "end"}, "y": {"datum": 0, "type": "quantitative", "scale": {"domain": [-0.04, 1], "nice": false, "zero": false}, "axis": null}}},
     {"data": {"name": "chroms"}, "mark": {"type": "rule", "color": "#222", "strokeWidth": 1.3},
      "encoding": {"x": {"field": "start", "type": "quantitative"}, "y": {"datum": 0}, "y2": {"datum": 0.35}}},
     {"data": {"name": "chroms"}, "mark": {"type": "rule", "color": "#222", "strokeWidth": 1.3},
      "encoding": {"x": {"field": "end", "type": "quantitative"}, "y": {"datum": 0}, "y2": {"datum": 0.35}}},
     {"data": {"name": "chroms"}, "mark": {"type": "text", "fontSize": 12, "color": "#111"},
      "encoding": {"x": {"field": "center", "type": "quantitative"}, "y": {"datum": 0.65}, "text": {"field": "chrom"}}}
    ]
   },
   {
    "width": 590, "height": 35,
    "view": {"fill": "#f5f5f5", "stroke": null},
    "layer": [
     {"data": {"name": "h2az"}, "mark": {"type": "area", "color": "#009f98"},
      "encoding": {"x": {"field": "pos", "type": "quantitative", "scale": {"domain": [0, 119.6], "nice": false, "zero": false}, "axis": null},
       "y": {"field": "v", "type": "quantitative", "scale": {"domain": [0, 1], "nice": false}, "axis": {"title": "H2A.Z", "titleAngle": 0, "titleAlign": "right", "titleBaseline": "middle", "titleColor": "#00a29b", "titleFontSize": 14, "labels": false, "ticks": false, "domain": false, "titlePadding": 9}}}},
     {"data": {"name": "cuts"}, "mark": {"type": "rule", "color": "#222", "strokeDash": [2, 2], "strokeWidth": 1}, "encoding": {"x": {"field": "pos", "type": "quantitative"}}}
    ]
   },
   {
    "width": 590, "height": 35,
    "view": {"fill": "#f5f5f5", "stroke": null},
    "layer": [
     {"data": {"name": "nrp1"}, "mark": {"type": "rule", "color": "#1f68a6", "strokeWidth": 1.6},
      "encoding": {"x": {"field": "pos", "type": "quantitative", "scale": {"domain": [0, 119.6], "nice": false, "zero": false}, "axis": null},
       "y": {"field": "v", "type": "quantitative", "scale": {"domain": [0, 1], "nice": false}, "axis": {"title": "NRP1-Myc", "titleAngle": 0, "titleAlign": "right", "titleBaseline": "middle", "titleColor": "#2a78b8", "titleFontSize": 14, "labels": false, "ticks": false, "domain": false, "titlePadding": 9}},
       "y2": {"datum": 0}}},
     {"data": {"name": "cuts"}, "mark": {"type": "rule", "color": "#222", "strokeDash": [2, 2], "strokeWidth": 1}, "encoding": {"x": {"field": "pos", "type": "quantitative"}}}
    ]
   },
   {
    "width": 590, "height": 125,
    "view": {"stroke": "#aaa", "strokeWidth": 2},
    "layer": [
     {"data": {"name": "ratio"}, "mark": {"type": "line", "color": "#dc1f5b", "strokeWidth": 1.4},
      "encoding": {"x": {"field": "pos", "type": "quantitative", "scale": {"domain": [0, 119.6], "nice": false, "zero": false}, "axis": {"labels": false, "ticks": false, "title": null, "domainColor": "#333", "domainWidth": 1.5}},
       "y": {"field": "v", "type": "quantitative", "scale": {"domain": [-0.2, 1.2], "nice": false, "zero": false}, "axis": {"orient": "left", "values": [-0.2, 0, 0.2, 0.4, 0.6, 0.8, 1, 1.2], "format": "~g", "title": "nrp1-1 nrp2-2/Col", "titleFontStyle": "italic", "titleColor": "#dc1f5b", "titleFontSize": 13, "tickSize": 4, "labelPadding": 6, "titlePadding": 2}}}},
     {"data": {"name": "ratio"}, "mark": {"type": "line", "opacity": 0},
      "encoding": {"x": {"field": "pos", "type": "quantitative"},
       "y": {"field": "v", "type": "quantitative", "axis": {"orient": "left", "title": "H2A.Z (Log2)", "labels": false, "ticks": false, "domain": false, "titleColor": "#dc1f5b", "titleFontSize": 13, "titlePadding": 0, "offset": 52}}}},
     {"data": {"name": "cuts"}, "mark": {"type": "rule", "color": "#222", "strokeDash": [2, 2], "strokeWidth": 1}, "encoding": {"x": {"field": "pos", "type": "quantitative"}}}
    ],
    "resolve": {"axis": {"y": "independent"}}
   }
  ]
 }
]
}
